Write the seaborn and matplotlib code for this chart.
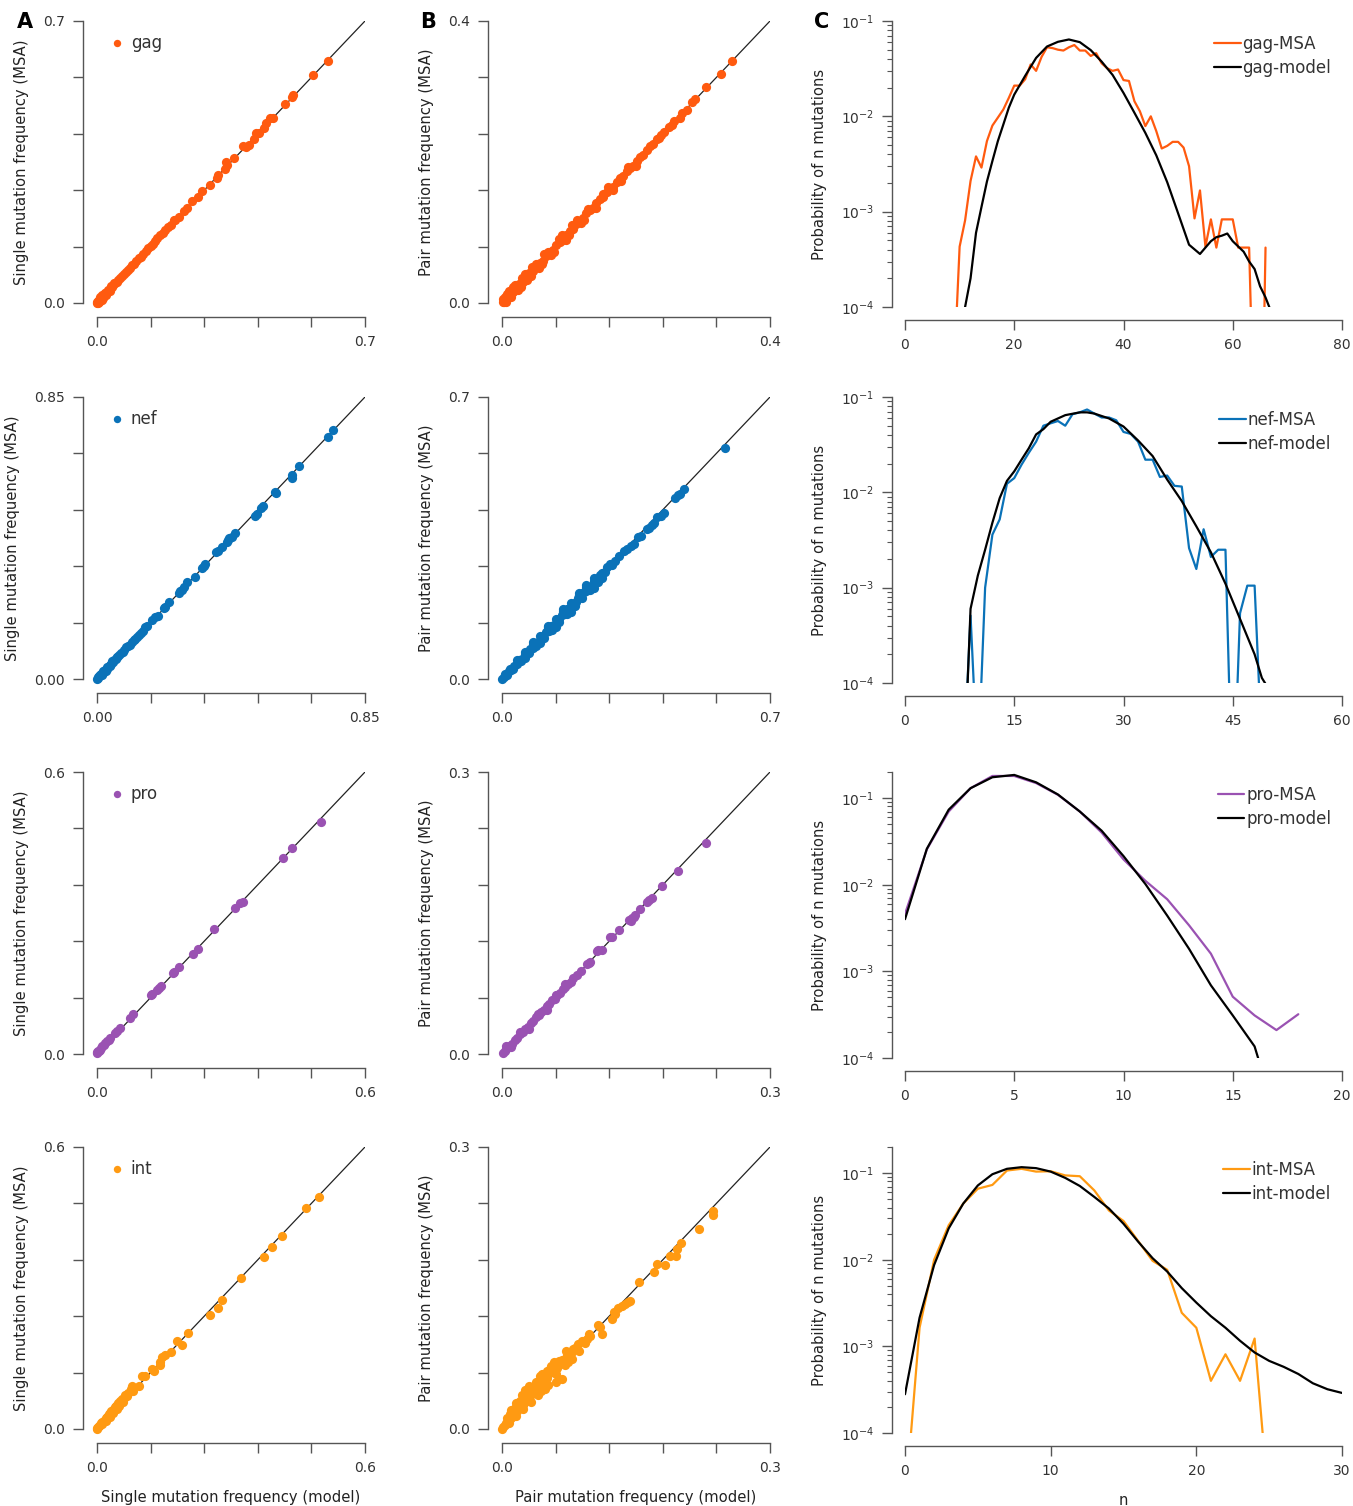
import numpy as np
import pandas as pd
import matplotlib
matplotlib.use("Agg")
import matplotlib.pyplot as plt
import seaborn as sns
from matplotlib.ticker import LogLocator, NullFormatter

# ---------------------------------------------------------------- data
proteins = ["gag", "nef", "pro", "int"]
colors = {"gag": "#FF5A0F", "nef": "#0A72B8", "pro": "#9A52B2", "int": "#FF9A12"}

single_max = {"gag": 0.7, "nef": 0.85, "pro": 0.6, "int": 0.6}
pair_max = {"gag": 0.4, "nef": 0.7, "pro": 0.3, "int": 0.3}
single_ticklabels = {"gag": ("0.0", "0.7"), "nef": ("0.00", "0.85"),
                     "pro": ("0.0", "0.6"), "int": ("0.0", "0.6")}
pair_ticklabels = {"gag": ("0.0", "0.4"), "nef": ("0.0", "0.7"),
                   "pro": ("0.0", "0.3"), "int": ("0.0", "0.3")}
n_xmax = {"gag": 80, "nef": 60, "pro": 20, "int": 30}
n_xticks = {"gag": [0, 20, 40, 60, 80], "nef": [0, 15, 30, 45, 60],
            "pro": [0, 5, 10, 15, 20], "int": [0, 10, 20, 30]}
p_ytop = {"gag": 0.1, "nef": 0.1, "pro": 0.2, "int": 0.2}

# (model, MSA) single-site mutation frequencies
gag_single = [
    (0.603, 0.601), (0.565, 0.566), (0.513, 0.516), (0.509, 0.511), (0.490, 0.494),
    (0.461, 0.458), (0.452, 0.459), (0.442, 0.446), (0.437, 0.435), (0.422, 0.421),
    (0.416, 0.423), (0.409, 0.406), (0.396, 0.391), (0.388, 0.386), (0.382, 0.389),
    (0.357, 0.359), (0.340, 0.343), (0.336, 0.350), (0.334, 0.333), (0.317, 0.318),
    (0.313, 0.310), (0.295, 0.293), (0.274, 0.277), (0.265, 0.264), (0.248, 0.252),
    (0.236, 0.235), (0.226, 0.229), (0.214, 0.214), (0.205, 0.207), (0.200, 0.206),
    (0.193, 0.194), (0.185, 0.188), (0.178, 0.182), (0.172, 0.174), (0.165, 0.168),
    (0.158, 0.161), (0.152, 0.155), (0.145, 0.146), (0.140, 0.142), (0.133, 0.137),
    (0.127, 0.128), (0.120, 0.122), (0.114, 0.113), (0.109, 0.112), (0.103, 0.104),
    (0.097, 0.096), (0.092, 0.094), (0.086, 0.088), (0.081, 0.081), (0.076, 0.078),
    (0.071, 0.072), (0.066, 0.068), (0.061, 0.062), (0.056, 0.058), (0.052, 0.051),
    (0.047, 0.049), (0.043, 0.044), (0.038, 0.040), (0.034, 0.035), (0.030, 0.031),
    (0.026, 0.028), (0.022, 0.024), (0.018, 0.020), (0.015, 0.016), (0.012, 0.014),
    (0.009, 0.011), (0.006, 0.008), (0.004, 0.006), (0.002, 0.004), (0.001, 0.002),
    (0.000, 0.001), (0.003, 0.001), (0.005, 0.003), (0.010, 0.008), (0.016, 0.013),
    (0.020, 0.019), (0.008, 0.014), (0.014, 0.020), (0.020, 0.026), (0.028, 0.033),
    (0.036, 0.041), (0.045, 0.050), (0.012, 0.008), (0.024, 0.021), (0.033, 0.030),
]
nef_single = [
    (0.750, 0.750), (0.732, 0.730), (0.642, 0.641), (0.618, 0.614), (0.619, 0.605),
    (0.567, 0.560), (0.565, 0.563), (0.528, 0.522), (0.521, 0.515), (0.507, 0.497),
    (0.502, 0.492), (0.438, 0.439), (0.428, 0.429), (0.417, 0.419), (0.412, 0.412),
    (0.420, 0.425), (0.396, 0.397), (0.385, 0.387), (0.378, 0.382), (0.343, 0.346),
    (0.333, 0.336), (0.338, 0.340), (0.312, 0.306), (0.285, 0.291), (0.275, 0.278),
    (0.270, 0.268), (0.264, 0.266), (0.259, 0.258), (0.227, 0.231), (0.216, 0.218),
    (0.211, 0.213), (0.195, 0.191), (0.185, 0.186), (0.174, 0.178), (0.158, 0.161),
    (0.153, 0.156), (0.145, 0.146), (0.139, 0.140), (0.133, 0.134), (0.127, 0.127),
    (0.121, 0.122), (0.116, 0.117), (0.110, 0.111), (0.104, 0.103), (0.098, 0.099),
    (0.093, 0.095), (0.087, 0.088), (0.082, 0.081), (0.076, 0.078), (0.071, 0.072),
    (0.065, 0.066), (0.060, 0.061), (0.055, 0.056), (0.050, 0.050), (0.045, 0.046),
    (0.040, 0.041), (0.035, 0.037), (0.031, 0.031), (0.026, 0.027), (0.022, 0.023),
    (0.018, 0.018), (0.014, 0.015), (0.010, 0.011), (0.007, 0.008), (0.004, 0.005),
    (0.002, 0.002), (0.000, 0.001), (0.009, 0.013), (0.020, 0.024), (0.033, 0.035),
    (0.048, 0.053), (0.062, 0.066), (0.015, 0.011), (0.028, 0.025), (0.042, 0.039),
]
pro_single = [
    (0.501, 0.493), (0.437, 0.439), (0.417, 0.416), (0.326, 0.324), (0.320, 0.321),
    (0.308, 0.310), (0.263, 0.265), (0.225, 0.223), (0.214, 0.213), (0.183, 0.186),
    (0.173, 0.174), (0.171, 0.172), (0.144, 0.145), (0.138, 0.140), (0.134, 0.137),
    (0.124, 0.127), (0.121, 0.126), (0.080, 0.085), (0.073, 0.076), (0.052, 0.055),
    (0.045, 0.048), (0.041, 0.045), (0.030, 0.034), (0.027, 0.030), (0.022, 0.027),
    (0.019, 0.023), (0.015, 0.019), (0.011, 0.016), (0.008, 0.012), (0.006, 0.009),
    (0.004, 0.007), (0.002, 0.006), (0.001, 0.004), (0.000, 0.002),
]
int_single = [
    (0.497, 0.493), (0.467, 0.471), (0.415, 0.410), (0.391, 0.387), (0.373, 0.367),
    (0.323, 0.322), (0.279, 0.275), (0.272, 0.257), (0.252, 0.243), (0.203, 0.204),
    (0.179, 0.188), (0.190, 0.178), (0.165, 0.164), (0.153, 0.157), (0.145, 0.154),
    (0.142, 0.142), (0.140, 0.136), (0.128, 0.124), (0.123, 0.127), (0.108, 0.113),
    (0.101, 0.112), (0.095, 0.091), (0.078, 0.091), (0.075, 0.085), (0.067, 0.071),
    (0.060, 0.067), (0.056, 0.064), (0.052, 0.060), (0.063, 0.073), (0.070, 0.076),
    (0.080, 0.080), (0.048, 0.055), (0.045, 0.051), (0.042, 0.050), (0.040, 0.046),
    (0.037, 0.043), (0.035, 0.040), (0.032, 0.038), (0.030, 0.034), (0.027, 0.032),
    (0.025, 0.028), (0.022, 0.026), (0.020, 0.023), (0.017, 0.020), (0.015, 0.017),
    (0.012, 0.015), (0.010, 0.012), (0.007, 0.009), (0.005, 0.006), (0.003, 0.004),
    (0.001, 0.002), (0.000, 0.000), (0.044, 0.043), (0.036, 0.035), (0.028, 0.026),
    (0.020, 0.018), (0.012, 0.011), (0.050, 0.048), (0.058, 0.058),
]

# (model, MSA) pair mutation frequencies
gag_pair = [
    (0.344, 0.343), (0.327, 0.325), (0.304, 0.306), (0.288, 0.289), (0.284, 0.285),
    (0.276, 0.274), (0.268, 0.270), (0.265, 0.263), (0.257, 0.258), (0.254, 0.252),
    (0.249, 0.250), (0.242, 0.243), (0.238, 0.239), (0.235, 0.234), (0.231, 0.232),
    (0.226, 0.225), (0.221, 0.222), (0.216, 0.217), (0.211, 0.210), (0.206, 0.207),
    (0.201, 0.202), (0.196, 0.195), (0.191, 0.192), (0.186, 0.187), (0.181, 0.180),
    (0.176, 0.177), (0.171, 0.172), (0.166, 0.165), (0.161, 0.162), (0.156, 0.157),
    (0.151, 0.150), (0.146, 0.147), (0.141, 0.142), (0.136, 0.135), (0.131, 0.132),
    (0.126, 0.127), (0.121, 0.120), (0.116, 0.117), (0.111, 0.112), (0.106, 0.105),
    (0.101, 0.102), (0.096, 0.097), (0.091, 0.090), (0.086, 0.087), (0.081, 0.082),
    (0.076, 0.075), (0.071, 0.072), (0.066, 0.067), (0.061, 0.060), (0.056, 0.057),
    (0.051, 0.052), (0.046, 0.045), (0.041, 0.042), (0.036, 0.037), (0.031, 0.030),
    (0.026, 0.027), (0.021, 0.022), (0.016, 0.015), (0.011, 0.012), (0.006, 0.007),
    (0.003, 0.002), (0.001, 0.001), (0.165, 0.160), (0.150, 0.155), (0.140, 0.135),
    (0.128, 0.133), (0.118, 0.113), (0.105, 0.110), (0.095, 0.090), (0.085, 0.091),
    (0.078, 0.072), (0.068, 0.073), (0.060, 0.055), (0.050, 0.056), (0.043, 0.038),
    (0.035, 0.041), (0.028, 0.023), (0.020, 0.026), (0.013, 0.008), (0.008, 0.013),
    (0.004, 0.008), (0.002, 0.006), (0.006, 0.002), (0.200, 0.195), (0.188, 0.193),
    (0.178, 0.173), (0.158, 0.164), (0.123, 0.118), (0.112, 0.118), (0.100, 0.096),
    (0.090, 0.096), (0.073, 0.068), (0.063, 0.069), (0.055, 0.050), (0.045, 0.051),
    (0.038, 0.033), (0.030, 0.036), (0.024, 0.019), (0.016, 0.022), (0.010, 0.017),
]
nef_pair = [
    (0.582, 0.574), (0.475, 0.471), (0.466, 0.459), (0.453, 0.450), (0.460, 0.456),
    (0.423, 0.413), (0.414, 0.405), (0.405, 0.401), (0.397, 0.388), (0.392, 0.383),
    (0.384, 0.376), (0.379, 0.372), (0.362, 0.355), (0.355, 0.352), (0.344, 0.335),
    (0.336, 0.331), (0.326, 0.322), (0.318, 0.318), (0.305, 0.306), (0.296, 0.293),
    (0.288, 0.282), (0.283, 0.285), (0.275, 0.277), (0.268, 0.266), (0.262, 0.262),
    (0.255, 0.257), (0.248, 0.246), (0.241, 0.243), (0.234, 0.231), (0.227, 0.229),
    (0.220, 0.218), (0.213, 0.215), (0.206, 0.203), (0.199, 0.201), (0.192, 0.190),
    (0.185, 0.187), (0.178, 0.176), (0.171, 0.173), (0.164, 0.162), (0.157, 0.159),
    (0.150, 0.148), (0.143, 0.145), (0.136, 0.134), (0.129, 0.131), (0.122, 0.120),
    (0.115, 0.117), (0.108, 0.106), (0.101, 0.103), (0.094, 0.092), (0.087, 0.089),
    (0.080, 0.078), (0.073, 0.075), (0.066, 0.064), (0.059, 0.061), (0.052, 0.050),
    (0.045, 0.047), (0.038, 0.036), (0.031, 0.033), (0.024, 0.022), (0.017, 0.019),
    (0.010, 0.009), (0.005, 0.006), (0.001, 0.001), (0.240, 0.250), (0.220, 0.229),
    (0.200, 0.208), (0.180, 0.188), (0.160, 0.168), (0.140, 0.148), (0.120, 0.128),
    (0.100, 0.107), (0.080, 0.087), (0.060, 0.066), (0.040, 0.046), (0.020, 0.025),
    (0.008, 0.013), (0.250, 0.241), (0.230, 0.221), (0.210, 0.201), (0.190, 0.181),
    (0.170, 0.161), (0.150, 0.141), (0.130, 0.122), (0.110, 0.102), (0.090, 0.083),
    (0.070, 0.064), (0.050, 0.045), (0.030, 0.025), (0.014, 0.009), (0.200, 0.214),
    (0.160, 0.173), (0.120, 0.132), (0.080, 0.091), (0.240, 0.226), (0.180, 0.167),
    (0.140, 0.128), (0.100, 0.089), (0.060, 0.051), (0.220, 0.233), (0.260, 0.250),
]
pro_pair = [
    (0.228, 0.224), (0.197, 0.195), (0.179, 0.179), (0.168, 0.166), (0.162, 0.162),
    (0.164, 0.164), (0.154, 0.154), (0.149, 0.148), (0.148, 0.146), (0.142, 0.143),
    (0.144, 0.141), (0.145, 0.145), (0.131, 0.132), (0.121, 0.125), (0.123, 0.124),
    (0.112, 0.111), (0.106, 0.110), (0.108, 0.111), (0.099, 0.098), (0.097, 0.097),
    (0.095, 0.096), (0.088, 0.088), (0.084, 0.084), (0.080, 0.081), (0.077, 0.077),
    (0.074, 0.075), (0.071, 0.071), (0.068, 0.069), (0.065, 0.065), (0.062, 0.063),
    (0.059, 0.059), (0.056, 0.057), (0.053, 0.053), (0.050, 0.051), (0.047, 0.047),
    (0.044, 0.045), (0.041, 0.041), (0.038, 0.039), (0.035, 0.035), (0.032, 0.033),
    (0.029, 0.029), (0.026, 0.027), (0.023, 0.023), (0.020, 0.021), (0.017, 0.017),
    (0.014, 0.015), (0.011, 0.011), (0.008, 0.009), (0.005, 0.005), (0.003, 0.003),
    (0.001, 0.001), (0.070, 0.074), (0.060, 0.063), (0.050, 0.047), (0.040, 0.043),
    (0.030, 0.027), (0.020, 0.023), (0.010, 0.007), (0.005, 0.008),
]
int_pair = [
    (0.236, 0.232), (0.236, 0.228), (0.220, 0.213), (0.2005, 0.198), (0.196, 0.192),
    (0.195, 0.184), (0.188, 0.184), (0.183, 0.174), (0.174, 0.176), (0.170, 0.167),
    (0.153, 0.156), (0.143, 0.136), (0.141, 0.135), (0.138, 0.133), (0.134, 0.131),
    (0.130, 0.129), (0.125, 0.124), (0.123, 0.117), (0.127, 0.122), (0.108, 0.111),
    (0.110, 0.108), (0.112, 0.101), (0.099, 0.099), (0.095, 0.096), (0.093, 0.092),
    (0.097, 0.101), (0.090, 0.094), (0.085, 0.090), (0.082, 0.086), (0.080, 0.085),
    (0.078, 0.082), (0.076, 0.080), (0.073, 0.079), (0.070, 0.075), (0.067, 0.073),
    (0.065, 0.069), (0.062, 0.065), (0.058, 0.071), (0.054, 0.064), (0.048, 0.055),
    (0.067, 0.053), (0.086, 0.083), (0.074, 0.071), (0.060, 0.058), (0.056, 0.061),
    (0.052, 0.058), (0.050, 0.054), (0.046, 0.052), (0.044, 0.049), (0.042, 0.046),
    (0.040, 0.045), (0.038, 0.042), (0.035, 0.040), (0.033, 0.037), (0.031, 0.035),
    (0.029, 0.032), (0.027, 0.030), (0.025, 0.028), (0.023, 0.026), (0.021, 0.024),
    (0.019, 0.022), (0.017, 0.019), (0.015, 0.017), (0.013, 0.015), (0.011, 0.013),
    (0.009, 0.011), (0.007, 0.008), (0.005, 0.006), (0.003, 0.004), (0.001, 0.002),
    (0.000, 0.000), (0.045, 0.058), (0.038, 0.050), (0.030, 0.041), (0.024, 0.034),
    (0.018, 0.027), (0.012, 0.019), (0.006, 0.012), (0.048, 0.043), (0.040, 0.036),
    (0.032, 0.029), (0.024, 0.021), (0.016, 0.014), (0.008, 0.006), (0.036, 0.046),
    (0.028, 0.038), (0.020, 0.030), (0.014, 0.022), (0.009, 0.016), (0.060, 0.050),
    (0.052, 0.047), (0.044, 0.040), (0.010, 0.020), (0.016, 0.028), (0.022, 0.036),
    (0.030, 0.046), (0.026, 0.042), (0.034, 0.044), (0.042, 0.056), (0.050, 0.062),
    (0.055, 0.067), (0.060, 0.064), (0.064, 0.072), (0.070, 0.068), (0.072, 0.083),
    (0.078, 0.075),
]

# probability of n mutations (values under 1e-4 sit below the axis floor)
gag_msa_n = list(range(9, 67))
gag_msa_p = [2.3e-5, 4.3e-4, 8.1e-4, 2.1e-3, 3.8e-3, 2.9e-3, 5.5e-3, 8.0e-3, 9.7e-3,
             1.18e-2, 1.56e-2, 2.1e-2, 2.1e-2, 2.45e-2, 3.5e-2, 3.0e-2, 4.2e-2, 5.3e-2,
             5.2e-2, 5.0e-2, 4.9e-2, 5.3e-2, 5.6e-2, 4.9e-2, 4.9e-2, 4.3e-2, 4.6e-2,
             3.6e-2, 3.2e-2, 3.0e-2, 3.1e-2, 2.4e-2, 2.35e-2, 1.44e-2, 1.13e-2, 7.9e-3,
             1.0e-2, 7.0e-3, 4.6e-3, 4.9e-3, 5.4e-3, 5.4e-3, 4.7e-3, 3.0e-3, 8.5e-4,
             1.67e-3, 4.3e-4, 8.3e-4, 4.2e-4, 8.3e-4, 8.3e-4, 8.3e-4, 4.2e-4, 4.2e-4,
             4.2e-4, 3.0e-6, 3.0e-7, 4.2e-4]
gag_model_n = [10, 11, 12, 13, 14, 15, 16, 17, 18, 19, 20, 22, 24, 26, 28, 30, 32, 34,
               36, 38, 40, 42, 44, 46, 48, 50, 52, 54, 56, 57, 58, 59, 60, 62, 63, 64,
               65, 66, 67]
gag_model_p = [1.0e-6, 1.0e-4, 2.0e-4, 6.0e-4, 1.12e-3, 2.07e-3, 3.4e-3, 5.5e-3, 8.2e-3,
               1.23e-2, 1.69e-2, 2.66e-2, 4.1e-2, 5.4e-2, 6.05e-2, 6.4e-2, 6.0e-2,
               4.95e-2, 3.75e-2, 2.72e-2, 1.76e-2, 1.09e-2, 6.7e-3, 3.9e-3, 2.04e-3,
               9.6e-4, 4.5e-4, 3.6e-4, 4.9e-4, 5.4e-4, 5.6e-4, 5.9e-4, 4.9e-4, 3.8e-4,
               3.0e-4, 2.5e-4, 1.65e-4, 1.26e-4, 9.0e-5]

nef_msa_n = list(range(8, 50))
nef_msa_p = [1.1e-5, 5.1e-4, 1.2e-5, 1.0e-3, 3.6e-3, 5.2e-3, 1.23e-2, 1.41e-2, 1.95e-2,
             2.6e-2, 3.4e-2, 5.0e-2, 5.3e-2, 5.6e-2, 5.0e-2, 6.6e-2, 6.9e-2, 7.4e-2,
             6.7e-2, 6.1e-2, 6.1e-2, 5.7e-2, 4.3e-2, 4.1e-2, 3.4e-2, 2.2e-2, 2.2e-2,
             1.45e-2, 1.5e-2, 1.17e-2, 1.15e-2, 2.6e-3, 1.57e-3, 4.1e-3, 2.1e-3, 2.5e-3,
             2.5e-3, 4.0e-6, 5.4e-4, 1.05e-3, 1.05e-3, 2.0e-5]
nef_model_n = [8, 9, 10, 11, 12, 13, 14, 15, 16, 17, 18, 19, 20, 22, 24, 25, 26, 28, 30,
               32, 34, 36, 38, 40, 42, 44, 46, 48, 49, 50]
nef_model_p = [7.0e-6, 6.0e-4, 1.34e-3, 2.5e-3, 4.8e-3, 8.7e-3, 1.32e-2, 1.66e-2, 2.2e-2,
               2.9e-2, 4.05e-2, 4.6e-2, 5.5e-2, 6.45e-2, 6.9e-2, 6.9e-2, 6.7e-2, 5.96e-2,
               4.9e-2, 3.5e-2, 2.4e-2, 1.36e-2, 8.1e-3, 4.4e-3, 2.35e-3, 1.1e-3, 4.7e-4,
               2.0e-4, 1.13e-4, 8.5e-5]

pro_msa_n = list(range(0, 19))
pro_msa_p = [4.6e-3, 2.56e-2, 7.0e-2, 0.130, 0.180, 0.180, 0.149, 0.109, 7.0e-2, 4.0e-2,
             1.96e-2, 1.11e-2, 6.8e-3, 3.4e-3, 1.6e-3, 5.1e-4, 3.1e-4, 2.1e-4, 3.2e-4]
pro_model_n = list(range(0, 18))
pro_model_p = [4.0e-3, 2.6e-2, 7.35e-2, 0.130, 0.174, 0.185, 0.152, 0.110, 7.0e-2, 4.2e-2,
               2.14e-2, 1.02e-2, 4.4e-3, 1.82e-3, 6.9e-4, 3.1e-4, 1.36e-4, 2.0e-5]

int_msa_n = list(range(0, 26))
int_msa_p = [1.4e-5, 1.64e-3, 1.0e-2, 2.5e-2, 4.45e-2, 6.6e-2, 7.3e-2, 0.107, 0.112, 0.104,
             0.105, 0.094, 0.092, 6.3e-2, 3.7e-2, 2.8e-2, 1.65e-2, 9.7e-3, 7.65e-3, 2.44e-3,
             1.64e-3, 4.0e-4, 8.1e-4, 4.0e-4, 1.23e-3, 1.3e-5]
int_model_n = list(range(0, 31))
int_model_p = [2.8e-4, 2.14e-3, 8.7e-3, 2.3e-2, 4.45e-2, 7.2e-2, 9.7e-2, 0.112, 0.117, 0.114,
               0.104, 8.8e-2, 7.1e-2, 5.3e-2, 3.9e-2, 2.6e-2, 1.62e-2, 1.04e-2, 7.3e-3,
               4.7e-3, 3.2e-3, 2.23e-3, 1.64e-3, 1.16e-3, 8.5e-4, 6.8e-4, 5.8e-4, 4.8e-4,
               3.75e-4, 3.2e-4, 2.9e-4]

singles = {"gag": gag_single, "nef": nef_single, "pro": pro_single, "int": int_single}
pairs = {"gag": gag_pair, "nef": nef_pair, "pro": pro_pair, "int": int_pair}
msa_dist = {"gag": (gag_msa_n, gag_msa_p), "nef": (nef_msa_n, nef_msa_p),
            "pro": (pro_msa_n, pro_msa_p), "int": (int_msa_n, int_msa_p)}
model_dist = {"gag": (gag_model_n, gag_model_p), "nef": (nef_model_n, nef_model_p),
              "pro": (pro_model_n, pro_model_p), "int": (int_model_n, int_model_p)}

# ---------------------------------------------------------------- style
sns.set_theme(style="ticks")
plt.rcParams["font.family"] = ["DejaVu Sans"]
plt.rcParams["mathtext.fontset"] = "dejavusans"
SPINE = "#555555"
TXT = "#333333"

W, H = 1353, 1506
fig = plt.figure(figsize=(W / 100, H / 100), dpi=100)


def add_ax(left, right, top, bottom):
    return fig.add_axes([left / W, 1 - bottom / H, (right - left) / W, (bottom - top) / H])


def style_axes(ax, offset=10):
    sns.despine(ax=ax, offset=offset)
    for s in ("left", "bottom"):
        ax.spines[s].set_color(SPINE)
        ax.spines[s].set_linewidth(1.0)
    ax.tick_params(which="major", direction="out", length=7, width=1.0, color=SPINE,
                   labelsize=10, labelcolor=TXT, pad=6)
    ax.tick_params(which="minor", direction="out", length=3.5, width=0.8, color=SPINE)


def scatter_panel(ax, data, vmax, ticklabels, color, ylabel, xlabel=None, name=None):
    df = pd.DataFrame(data, columns=["model", "msa"])
    ax.plot([0, vmax], [0, vmax], color="#222222", lw=0.9, zorder=1)
    sns.scatterplot(data=df, x="model", y="msa", color=color, s=44, linewidth=0,
                    ax=ax, clip_on=False, zorder=2, label=name, legend=bool(name))
    ax.set_xlim(0, vmax)
    ax.set_ylim(0, vmax)
    ticks = [vmax * i / 5 for i in range(6)]
    labs = [ticklabels[0], "", "", "", "", ticklabels[1]]
    ax.set_xticks(ticks)
    ax.set_yticks(ticks)
    ax.set_xticklabels(labs)
    ax.set_yticklabels(labs)
    ax.set_ylabel(ylabel, fontsize=10.6, color="#222222", labelpad=10)
    ax.set_xlabel(xlabel if xlabel else "", fontsize=10.6, color="#222222", labelpad=11)
    style_axes(ax)
    if name:
        ax.legend(loc="upper left", bbox_to_anchor=(0.045, 0.955), frameon=False,
                  handletextpad=0.3, handlelength=1.0, borderaxespad=0, borderpad=0,
                  fontsize=12, labelcolor=TXT, markerscale=0.8)


def dist_panel(ax, name, xlabel=None):
    n1, p1 = msa_dist[name]
    n2, p2 = model_dist[name]
    sns.lineplot(x=n1, y=p1, ax=ax, color=colors[name], lw=1.6, label=f"{name}-MSA")
    sns.lineplot(x=n2, y=p2, ax=ax, color="black", lw=1.6, label=f"{name}-model")
    ax.set_yscale("log")
    ax.set_ylim(1e-4, p_ytop[name])
    ax.set_xlim(0, n_xmax[name])
    ax.set_xticks(n_xticks[name])
    ax.set_xticklabels([str(t) for t in n_xticks[name]])
    ax.yaxis.set_major_locator(LogLocator(base=10, numticks=10))
    ax.yaxis.set_minor_locator(LogLocator(base=10, subs=np.arange(2, 10), numticks=10))
    ax.yaxis.set_minor_formatter(NullFormatter())
    ax.set_ylabel("Probability of n mutations", fontsize=10.6, color="#222222", labelpad=10)
    ax.set_xlabel(xlabel if xlabel else "", fontsize=10.6, color="#222222", labelpad=11)
    style_axes(ax, offset=9)
    ax.legend(loc="upper right", bbox_to_anchor=(0.975, 0.952), frameon=False,
              handlelength=1.6, handletextpad=0.1, labelspacing=0.35,
              borderaxespad=0, borderpad=0, fontsize=12, labelcolor=TXT)


col_A = (97, 365)
col_B = (502, 770)
col_C = (905, 1342)
row_tops = [21, 397, 772, 1147]
AH = 282

for i, name in enumerate(proteins):
    top = row_tops[i]
    last = i == len(proteins) - 1
    axA = add_ax(col_A[0], col_A[1], top, top + AH)
    scatter_panel(axA, singles[name], single_max[name], single_ticklabels[name],
                  colors[name], "Single mutation frequency (MSA)",
                  "Single mutation frequency (model)" if last else None, name=name)
    axB = add_ax(col_B[0], col_B[1], top, top + AH)
    scatter_panel(axB, pairs[name], pair_max[name], pair_ticklabels[name],
                  colors[name], "Pair mutation frequency (MSA)",
                  "Pair mutation frequency (model)" if last else None)
    axC = add_ax(col_C[0], col_C[1], top, top + AH + 4)
    dist_panel(axC, name, "n" if last else None)

for letter, x in (("A", 25), ("B", 428), ("C", 822)):
    fig.text(x / W, 1 - 22 / H, letter, fontsize=15, fontweight="bold",
             ha="center", va="center", color="black")

fig.savefig("out.png", dpi=100, facecolor="white")
